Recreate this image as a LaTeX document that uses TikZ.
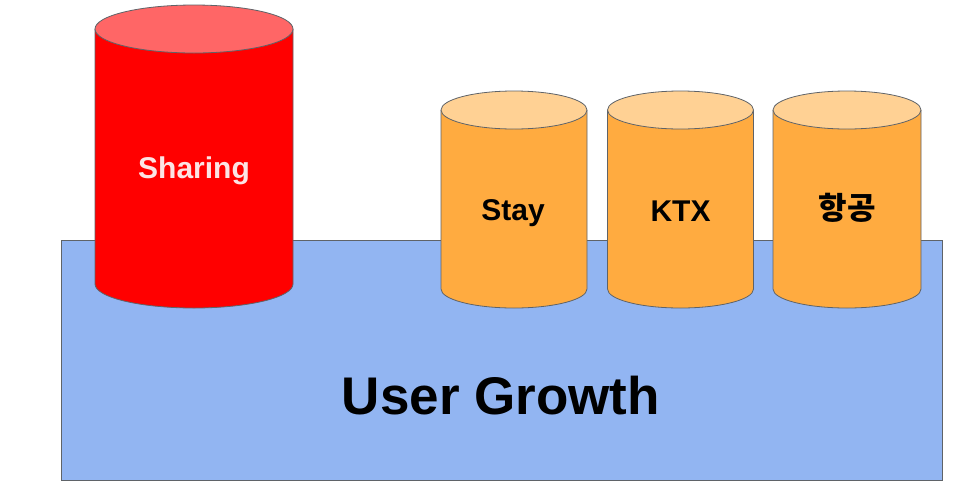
\documentclass[tikz,border=0pt]{standalone}
\usepackage{fontspec}
\setmainfont{Liberation Sans}
\newfontfamily\krfont{Noto Sans CJK KR}
\definecolor{bluefill}{HTML}{92B5F2}
\definecolor{edgegray}{HTML}{5F6368}
\definecolor{redbody}{HTML}{FF0000}
\definecolor{redtop}{HTML}{FF6666}
\definecolor{orbody}{HTML}{FFAB40}
\definecolor{ortop}{HTML}{FFD194}
\definecolor{sharetext}{HTML}{FCE4E4}
\tikzset{
  outline/.style={draw=edgegray, line width=0.8pt},
  lbl/.style={anchor=base, inner sep=0pt, font=\bfseries\fontsize{30}{36}\selectfont},
}
% cylinder: cx, rx, top cy, bottom cy, ry, bodycolor, topcolor
\newcommand{\cyl}[7]{%
  \fill[#6] (#1-#2,#3) -- (#1-#2,#4) arc[start angle=180,end angle=360,x radius=#2,y radius=-#5] -- (#1+#2,#3) -- cycle;
  \draw[outline] (#1-#2,#3) -- (#1-#2,#4) arc[start angle=180,end angle=360,x radius=#2,y radius=-#5] -- (#1+#2,#3);
  \draw[outline, fill=#7] (#1,#3) ellipse[x radius=#2, y radius=#5];
}
\begin{document}
\begin{tikzpicture}[x=1pt,y=-1pt]
\fill[white] (0,0) rectangle (968,496);
\useasboundingbox (0,0) rectangle (968,496);
\draw[outline, fill=bluefill] (61,240) rectangle (942,480);
\node (base) [lbl, font=\bfseries\fontsize{53}{60}\selectfont] at (501,414) {User Growth};
\cyl{194}{99}{29}{284}{24}{redbody}{redtop}
\cyl{514}{73}{110}{289}{19}{orbody}{ortop}
\cyl{680.5}{73}{110}{289}{19}{orbody}{ortop}
\cyl{847}{74}{110}{289}{19}{orbody}{ortop}
\node (sharing) [lbl, text=sharetext] at (194,178) {Sharing};
\node (stay) [lbl] at (513,220.5) {Stay};
\node (ktx) [lbl] at (680.5,221) {KTX};
\node (air) [lbl, font=\krfont\bfseries\fontsize{31}{36}\selectfont] at (847,219) {항공};
\end{tikzpicture}
\end{document}
